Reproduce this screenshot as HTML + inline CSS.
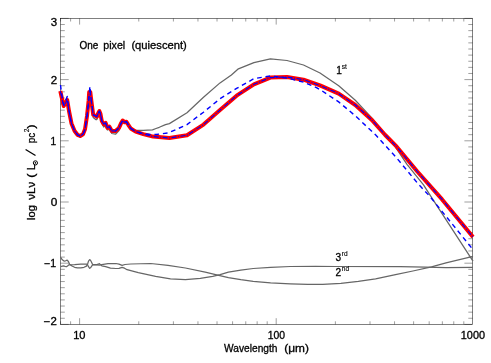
<!DOCTYPE html>
<html><head><meta charset="utf-8"><style>
html,body{margin:0;padding:0;background:#fff;}
svg{display:block}
text{font-family:"Liberation Sans",sans-serif;fill:#000;stroke:#000;stroke-width:0.3px;}
</style></head><body>
<svg width="491" height="363" viewBox="0 0 491 363">
<defs><filter id="idf" x="0" y="0" width="491" height="363" filterUnits="userSpaceOnUse" color-interpolation-filters="sRGB"><feOffset dx="0" dy="0"/></filter></defs>
<rect width="491" height="363" fill="#fff"/>
<rect x="60.5" y="18.4" width="412.1" height="306.0" fill="none" stroke="#000" stroke-width="0.5"/>
<path d="M60.55,324.4v-3.1M60.55,18.4v3.1M70.60,324.4v-3.1M70.60,18.4v3.1M79.60,324.4v-6.2M79.60,18.4v6.2M138.78,324.4v-3.1M138.78,18.4v3.1M173.40,324.4v-3.1M173.40,18.4v3.1M197.96,324.4v-3.1M197.96,18.4v3.1M217.02,324.4v-3.1M217.02,18.4v3.1M232.58,324.4v-3.1M232.58,18.4v3.1M245.75,324.4v-3.1M245.75,18.4v3.1M257.15,324.4v-3.1M257.15,18.4v3.1M267.20,324.4v-3.1M267.20,18.4v3.1M276.20,324.4v-6.2M276.20,18.4v6.2M335.38,324.4v-3.1M335.38,18.4v3.1M370.00,324.4v-3.1M370.00,18.4v3.1M394.56,324.4v-3.1M394.56,18.4v3.1M413.62,324.4v-3.1M413.62,18.4v3.1M429.18,324.4v-3.1M429.18,18.4v3.1M442.35,324.4v-3.1M442.35,18.4v3.1M453.75,324.4v-3.1M453.75,18.4v3.1M463.80,324.4v-3.1M463.80,18.4v3.1M60.5,324.40h8.2M472.6,324.40h-8.2M60.5,318.28h4.3M472.6,318.28h-4.3M60.5,312.16h4.3M472.6,312.16h-4.3M60.5,306.04h4.3M472.6,306.04h-4.3M60.5,299.92h4.3M472.6,299.92h-4.3M60.5,293.80h4.3M472.6,293.80h-4.3M60.5,287.68h4.3M472.6,287.68h-4.3M60.5,281.56h4.3M472.6,281.56h-4.3M60.5,275.44h4.3M472.6,275.44h-4.3M60.5,269.32h4.3M472.6,269.32h-4.3M60.5,263.20h8.2M472.6,263.20h-8.2M60.5,257.08h4.3M472.6,257.08h-4.3M60.5,250.96h4.3M472.6,250.96h-4.3M60.5,244.84h4.3M472.6,244.84h-4.3M60.5,238.72h4.3M472.6,238.72h-4.3M60.5,232.60h4.3M472.6,232.60h-4.3M60.5,226.48h4.3M472.6,226.48h-4.3M60.5,220.36h4.3M472.6,220.36h-4.3M60.5,214.24h4.3M472.6,214.24h-4.3M60.5,208.12h4.3M472.6,208.12h-4.3M60.5,202.00h8.2M472.6,202.00h-8.2M60.5,195.88h4.3M472.6,195.88h-4.3M60.5,189.76h4.3M472.6,189.76h-4.3M60.5,183.64h4.3M472.6,183.64h-4.3M60.5,177.52h4.3M472.6,177.52h-4.3M60.5,171.40h4.3M472.6,171.40h-4.3M60.5,165.28h4.3M472.6,165.28h-4.3M60.5,159.16h4.3M472.6,159.16h-4.3M60.5,153.04h4.3M472.6,153.04h-4.3M60.5,146.92h4.3M472.6,146.92h-4.3M60.5,140.80h8.2M472.6,140.80h-8.2M60.5,134.68h4.3M472.6,134.68h-4.3M60.5,128.56h4.3M472.6,128.56h-4.3M60.5,122.44h4.3M472.6,122.44h-4.3M60.5,116.32h4.3M472.6,116.32h-4.3M60.5,110.20h4.3M472.6,110.20h-4.3M60.5,104.08h4.3M472.6,104.08h-4.3M60.5,97.96h4.3M472.6,97.96h-4.3M60.5,91.84h4.3M472.6,91.84h-4.3M60.5,85.72h4.3M472.6,85.72h-4.3M60.5,79.60h8.2M472.6,79.60h-8.2M60.5,73.48h4.3M472.6,73.48h-4.3M60.5,67.36h4.3M472.6,67.36h-4.3M60.5,61.24h4.3M472.6,61.24h-4.3M60.5,55.12h4.3M472.6,55.12h-4.3M60.5,49.00h4.3M472.6,49.00h-4.3M60.5,42.88h4.3M472.6,42.88h-4.3M60.5,36.76h4.3M472.6,36.76h-4.3M60.5,30.64h4.3M472.6,30.64h-4.3M60.5,24.52h4.3M472.6,24.52h-4.3M60.5,18.40h8.2M472.6,18.40h-8.2" fill="none" stroke="#000" stroke-width="0.38"/>
<polyline points="60.3,93.0 61.5,98.0 63.7,107.5 65.5,104.0 67.2,101.0 69.0,112.0 71.5,124.5 74.6,132.0 77.5,135.8 80.2,137.0 83.0,135.3 85.0,130.3 87.0,117.0 88.8,102.0 89.7,93.0 90.8,99.0 91.9,106.0 93.2,117.5 95.7,119.5 96.9,119.5 98.3,115.0 99.4,112.0 100.5,115.0 101.8,123.0 103.7,127.0 105.6,126.0 107.4,130.0 109.3,129.5 111.8,133.5 115.5,134.2 119.0,130.5 120.9,125.0 122.7,121.0 124.6,122.3 126.4,121.7 128.3,125.0 130.8,128.5 133.3,130.4 143.2,130.4 152.5,129.8 156.0,128.5 159.3,127.3 165.5,124.6 169.4,123.6 187.0,112.8 203.5,97.3 220.0,82.9 231.4,75.0 238.4,68.8 253.9,62.6 270.4,58.8 287.0,60.5 303.5,65.0 320.0,73.0 338.7,85.8 355.3,100.3 371.8,117.9 384.2,133.3 392.5,142.6 407.0,164.3 423.5,184.9 432.8,199.4 473.0,261.1" fill="none" stroke="#666666" stroke-width="1.25" stroke-linejoin="round"/>
<polyline points="60.7,257.4 62.3,259.8 64.0,261.1 65.6,260.8 67.2,260.1 68.4,261.5 69.6,264.2 72.0,266.0 74.6,267.3 77.5,267.8 80.8,267.9 84.0,267.3 86.4,266.1 87.6,264.0 88.5,261.1 89.7,259.6 90.5,260.3 91.3,261.7 92.6,264.6 96.9,264.6 98.2,264.2 99.4,263.6 100.5,264.6 101.8,265.8 105.6,266.7 110.5,268.2 115.9,268.5 119.0,268.3 122.1,267.3 124.5,268.2 127.1,269.7 138.3,272.7 155.6,276.4 170.5,278.9 185.4,279.7 200.3,278.4 212.7,276.4 220.1,274.7 228.4,272.2 240.8,270.2 253.2,268.5 270.6,267.3 290.4,266.5 315.3,266.3 336.0,266.5 400.0,266.6 425.3,267.2 446.0,267.6 473.0,267.3" fill="none" stroke="#666666" stroke-width="1.25" stroke-linejoin="round"/>
<polyline points="60.7,266.7 63.4,265.8 65.0,266.3 66.5,266.7 67.8,265.8 69.0,264.8 74.6,264.6 80.8,264.2 87.0,264.2 87.8,265.2 88.5,266.7 89.7,268.3 90.5,267.8 91.3,266.7 92.6,264.8 96.9,264.8 99.4,265.1 101.8,264.6 108.0,263.6 115.9,263.5 119.0,264.2 122.1,265.3 125.0,264.5 130.8,264.0 150.7,263.5 168.0,265.3 185.4,268.0 205.2,272.2 217.7,275.2 228.4,277.7 240.8,279.7 253.2,281.4 270.6,282.9 290.4,283.9 307.8,284.4 322.7,284.4 340.9,283.4 358.3,281.4 375.6,278.9 395.5,274.7 412.9,271.0 431.5,266.8 446.0,262.8 473.0,256.4" fill="none" stroke="#666666" stroke-width="1.25" stroke-linejoin="round"/>
<polyline points="60.3,91.0 61.5,96.5 63.7,106.0 65.5,103.0 67.2,100.0 69.0,111.0 71.5,123.5 74.6,131.0 77.5,134.8 80.2,136.0 83.0,134.3 85.0,129.3 87.0,116.0 88.6,101.0 89.2,92.0 90.3,92.0 91.0,98.0 91.9,105.0 93.2,114.8 95.7,116.0 96.9,116.7 98.3,113.0 99.4,111.1 100.5,114.0 101.8,121.0 103.7,124.1 105.6,122.9 107.4,127.8 109.3,126.6 111.8,130.9 115.5,131.0 119.0,127.9 120.9,123.6 122.7,120.5 124.6,122.3 126.4,121.7 128.3,124.8 130.8,128.5 135.7,131.6 143.2,134.1 153.1,136.6 169.4,138.0 187.0,135.3 203.5,124.6 220.0,110.1 236.6,95.7 253.9,84.3 270.4,77.6 287.0,77.0 303.5,79.7 320.0,85.4 338.7,93.7 355.3,105.0 371.8,119.9 385.2,135.0 396.7,146.7 417.3,171.5 442.1,199.4 473.0,237.0" fill="none" stroke="#ff0000" stroke-width="4" stroke-linejoin="round"/>
<polyline points="60.3,91.0 61.5,96.5 63.7,106.0 65.5,103.0 67.2,100.0 69.0,111.0 71.5,123.5 74.6,131.0 77.5,134.8 80.2,136.0 83.0,134.3 85.0,129.3 87.0,116.0 88.6,101.0 89.2,92.0 90.3,92.0 91.0,98.0 91.9,105.0 93.2,114.8 95.7,116.0 96.9,116.7 98.3,113.0 99.4,111.1 100.5,114.0 101.8,121.0 103.7,124.1 105.6,122.9 107.4,127.8 109.3,126.6 111.8,130.9 115.5,131.0 119.0,127.9 120.9,123.6 122.7,120.5 124.6,122.3 126.4,121.7 128.3,124.8 130.8,128.5 135.7,131.6 143.2,134.1 153.1,136.6 169.4,138.0 187.0,135.3 203.5,124.6 220.0,110.1 236.6,95.7 253.9,84.3 270.4,77.6 287.0,77.0 303.5,79.7 320.0,85.4 338.7,93.7 355.3,105.0 371.8,119.9 385.2,135.0 396.7,146.7 417.3,171.5 442.1,199.4 473.0,237.0" fill="none" stroke="#0000ff" stroke-width="1.1" stroke-dasharray="5 1.5 1 1.5" stroke-linejoin="round"/>
<polyline points="60.5,85.0 61.8,95.0 63.7,105.0 65.5,101.0 67.2,96.5 69.0,111.0 71.5,123.5 74.6,131.0 77.5,134.8 80.2,136.0 83.0,134.3 85.0,129.3 87.0,116.0 88.8,100.0 89.9,86.2 91.0,98.0 91.9,105.0 93.2,114.8 95.7,116.0 96.9,116.7 98.3,113.0 99.4,111.1 100.5,114.0 101.8,121.0 103.7,124.1 105.6,122.9 107.4,127.8 109.3,126.6 111.8,130.9 115.5,131.0 119.0,127.9 120.9,123.6 122.7,120.5 124.6,122.3 126.4,121.7 128.3,124.8 130.8,128.5 135.7,131.6 143.2,133.5 150.0,134.5 156.0,134.5 168.4,132.9 187.0,124.6 203.5,112.2 220.0,98.8 236.6,88.4 253.9,78.7 270.4,76.0 287.0,78.0 303.5,82.2 316.9,87.8 322.2,91.0 338.7,101.9 355.3,115.8 371.8,131.3 376.0,135.3 396.7,158.0 417.3,182.9 429.5,196.0 472.6,249.1" fill="none" stroke="#0000ff" stroke-width="1.4" stroke-dasharray="4.7 3.8" stroke-linejoin="round"/>
<g filter="url(#idf)">
<text x="57.2" y="25.9" text-anchor="end" font-size="10.1" textLength="6.4" lengthAdjust="spacingAndGlyphs">3</text>
<text x="57.2" y="83.6" text-anchor="end" font-size="10.1" textLength="6.4" lengthAdjust="spacingAndGlyphs">2</text>
<text x="56.2" y="144.5" text-anchor="end" font-size="10.1">1</text>
<text x="57.4" y="206.0" text-anchor="end" font-size="10.1" textLength="6.6" lengthAdjust="spacingAndGlyphs">0</text>
<text x="56.2" y="267.1" text-anchor="end" font-size="10.1" textLength="12" lengthAdjust="spacingAndGlyphs">−1</text>
<text x="56.8" y="325.4" text-anchor="end" font-size="10.1" textLength="13" lengthAdjust="spacingAndGlyphs">−2</text>
<text x="73.2" y="339.2" text-anchor="start" font-size="10.1" textLength="12.3" lengthAdjust="spacingAndGlyphs">10</text>
<text x="267.8" y="339.2" text-anchor="start" font-size="10.1" textLength="17.3" lengthAdjust="spacingAndGlyphs">100</text>
<text x="460.8" y="339.2" text-anchor="start" font-size="10.1" textLength="24.2" lengthAdjust="spacingAndGlyphs">1000</text>
<text x="224.1" y="351.9" text-anchor="start" font-size="10.4" textLength="53.4" lengthAdjust="spacingAndGlyphs">Wavelength</text>
<text x="284.2" y="351.9" text-anchor="start" font-size="10.4" textLength="24.7" lengthAdjust="spacingAndGlyphs">(μm)</text>
<text x="79.5" y="49.4" text-anchor="start" font-size="10.4" textLength="18.8" lengthAdjust="spacingAndGlyphs">One</text>
<text x="103.3" y="49.4" text-anchor="start" font-size="10.4" textLength="21.9" lengthAdjust="spacingAndGlyphs">pixel</text>
<text x="131.4" y="49.4" text-anchor="start" font-size="10.4" textLength="55.4" lengthAdjust="spacingAndGlyphs">(quiescent)</text>
<text x="336.3" y="73.6" text-anchor="start" font-size="10.1">1</text>
<text x="341.8" y="69.4" text-anchor="start" font-size="6.6" style="stroke-width:0.12px">st</text>
<text x="335.6" y="260.6" text-anchor="start" font-size="10.1">3</text>
<text x="341.8" y="256.2" text-anchor="start" font-size="6.6" style="stroke-width:0.12px">rd</text>
<text x="335.6" y="275.9" text-anchor="start" font-size="10.1">2</text>
<text x="341.8" y="271.2" text-anchor="start" font-size="6.6" style="stroke-width:0.12px">nd</text>
<g transform="translate(34.7,220) rotate(-90)">
<text x="0.1" y="0" text-anchor="start" font-size="10.4" textLength="14.7" lengthAdjust="spacingAndGlyphs">log</text>
<text x="20.3" y="0" text-anchor="start" font-size="10.4" textLength="18.0" lengthAdjust="spacingAndGlyphs">νLν</text>
<text x="42.3" y="0" text-anchor="start" font-size="10.4" textLength="4.3" lengthAdjust="spacingAndGlyphs">(</text>
<text x="49.8" y="0" text-anchor="start" font-size="10.4" textLength="6.2" lengthAdjust="spacingAndGlyphs">L</text>
<circle cx="57.1" cy="0.7" r="2.1" fill="none" stroke="#000" stroke-width="1"/><circle cx="57.1" cy="0.7" r="0.8" fill="#000"/>
<path d="M64.5,0.8L70.5,-9.1" stroke="#000" stroke-width="1.25" fill="none"/>
<text x="76.8" y="0" text-anchor="start" font-size="10.4" textLength="10.5" lengthAdjust="spacingAndGlyphs">pc</text>
<text x="87.8" y="-5.8" text-anchor="start" font-size="6.6" style="stroke-width:0.15px">2</text>
<text x="91.2" y="0" text-anchor="start" font-size="10.4" textLength="4.3" lengthAdjust="spacingAndGlyphs">)</text>
</g>
</g>
</svg>
</body></html>
